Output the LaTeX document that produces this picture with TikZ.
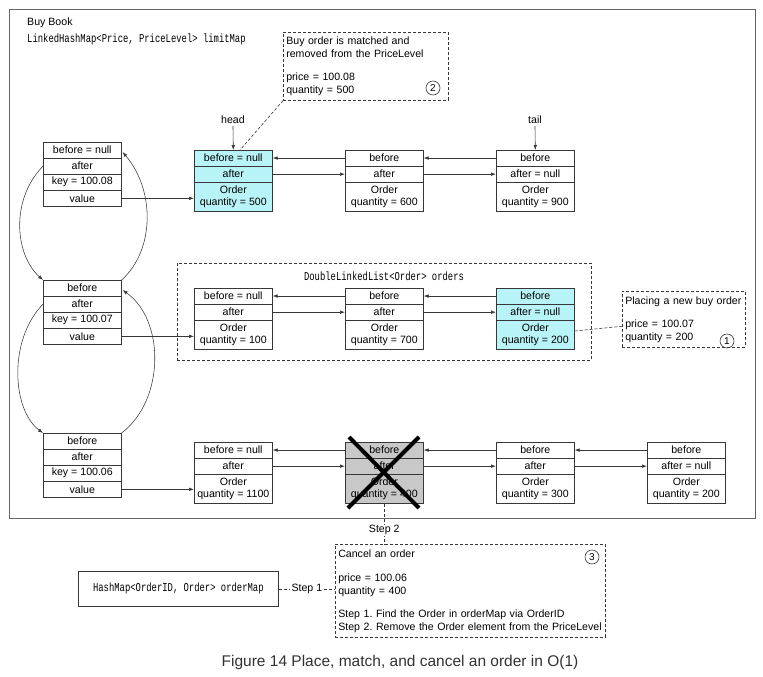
\documentclass[tikz,border=0pt]{standalone}
\usepackage{fontspec}
\setmainfont{Liberation Sans}
\newfontfamily\cmono[FakeStretch=0.74]{Liberation Mono}
\usetikzlibrary{arrows.meta,calc}
\frenchspacing

\definecolor{cyanfill}{RGB}{184,244,247}
\definecolor{greyfill}{RGB}{200,200,200}
\definecolor{edge}{RGB}{55,55,55}
\definecolor{frameline}{RGB}{100,100,100}
\definecolor{captext}{RGB}{50,50,50}

\tikzset{
  cell/.style={draw=edge, line width=0.6pt, minimum width=78pt, inner sep=0pt,
    anchor=north west, align=center, font=\fontsize{10.6}{12.5}\selectfont},
  rowcell/.style={cell, minimum height=15.5pt},
  bigcell/.style={cell, minimum height=29pt},
  link/.style={draw=edge, line width=0.6pt, -{Latex[length=5pt,width=3.6pt]}},
  curvelink/.style={draw=edge, line width=0.55pt, -{Latex[length=5pt,width=3.6pt]}},
  dashline/.style={draw=edge, line width=0.6pt, dash pattern=on 3pt off 2pt},
  note/.style={draw=edge, line width=0.6pt, dash pattern=on 3pt off 2pt, anchor=north west,
    align=left, inner sep=3pt, font=\fontsize{10.6}{13}\selectfont},
  circ/.style={circle, draw=edge, line width=0.6pt, inner sep=0pt, minimum size=14pt,
    font=\fontsize{10}{12}\selectfont},
  txt/.style={inner sep=0pt, font=\fontsize{10.6}{12.5}\selectfont},
  monotxt/.style={inner sep=0pt, font=\cmono\fontsize{12}{13}\selectfont},
}

\newcommand\ordernode[7]{%
  \node[rowcell, fill=#7] (#1-b) at (#2,#3) {#4};
  \node[rowcell, fill=#7] (#1-a) at (#1-b.south west) {#5};
  \node[bigcell, fill=#7] (#1-o) at (#1-a.south west) {Order\\quantity = #6};
}
\newcommand\hashnode[5]{%
  \node[rowcell, fill=white] (#1-b) at (#2,#3) {#4};
  \node[rowcell, fill=white] (#1-a) at (#1-b.south west) {after};
  \node[rowcell, fill=white] (#1-k) at (#1-a.south west) {key = #5};
  \node[rowcell, fill=white] (#1-v) at (#1-k.south west) {value};
}
\newcommand\pairlinks[2]{%
  \draw[link] (#2-b.west) -- (#2-b.west -| #1-b.east);
  \draw[link] (#1-a.east) -- (#1-a.east -| #2-a.west);
}

\begin{document}
\begin{tikzpicture}[x=1pt, y=-1pt]
\useasboundingbox (0,0) rectangle (763,677);

% outer frame
\draw[frameline, line width=0.8pt] (9,9) rectangle (755,518);
\node[txt, anchor=west] (title) at (27,23) {Buy Book};
\node[monotxt, anchor=west] (lhm) at (27,39) {LinkedHashMap<Price, PriceLevel> limitMap};

% dashed box of the order list
\node[draw=edge, line width=0.6pt, dash pattern=on 3pt off 2pt, anchor=north west,
      minimum width=414pt, minimum height=97pt, inner sep=0pt] (dll) at (177,263) {};
\node[monotxt] (dlltitle) at (384,276) {DoubleLinkedList<Order> orders};

% hash nodes
\hashnode{h1}{43}{142}{before = null}{100.08}
\hashnode{h2}{43}{280}{before}{100.07}
\hashnode{h3}{43}{433}{before}{100.06}

% order rows
\ordernode{o11}{194}{150}{before = null}{after}{500}{cyanfill}
\ordernode{o12}{345}{150}{before}{after}{600}{white}
\ordernode{o13}{496}{150}{before}{after = null}{900}{white}

\ordernode{o21}{194}{288}{before = null}{after}{100}{white}
\ordernode{o22}{345}{288}{before}{after}{700}{white}
\ordernode{o23}{496}{288}{before}{after = null}{200}{cyanfill}

\ordernode{o31}{194}{442}{before = null}{after}{1100}{white}
\ordernode{o32}{345}{442}{before}{after}{400}{greyfill}
\ordernode{o33}{496}{442}{before}{after}{300}{white}
\ordernode{o34}{647}{442}{before}{after = null}{200}{white}

\pairlinks{o11}{o12}
\pairlinks{o12}{o13}
\pairlinks{o21}{o22}
\pairlinks{o22}{o23}
\pairlinks{o31}{o32}
\pairlinks{o32}{o33}
\pairlinks{o33}{o34}

% value arrows
\draw[link] (h1-v.east) -- (h1-v.east -| o11-o.west);
\draw[link] (h2-v.east) -- (h2-v.east -| o21-o.west);
\draw[link] (h3-v.east) -- (h3-v.east -| o31-o.west);

% hash links (curves)
\draw[curvelink] (h1-a.west) .. controls (10,200) and (15,255) .. (h2-b.north west);
\draw[curvelink] (h2-b.north east) .. controls (155,250) and (155,190) .. ($(h1-b.east)+(1,2)$);
\draw[curvelink] (h2-a.west) .. controls (8,340) and (12,410) .. (h3-b.north west);
\draw[curvelink] (h3-b.north east) .. controls (165,400) and (165,320) .. ($(h2-b.east)+(1,2)$);

% head and tail
\node[txt] (head) at (233,120) {head};
\node[txt] (tail) at (535,120) {tail};
\draw[link] (head.south) ++(0,2) -- (o11-b.north);
\draw[link] (tail.south) ++(0,2) -- (o13-b.north);

% cancelled order cross
\draw[black, line width=4pt] (349,437) -- (419,508);
\draw[black, line width=4pt] (419,437) -- (348,508);

% notes
\node[note, text width=159pt, minimum height=68pt] (n2) at (283,32)
  {Buy order is matched and\\removed from the PriceLevel\\[10pt]price = 100.08\\quantity = 500};
\node[circ] (c2) at (433,88) {2};
\coordinate (m2) at (240,150);
\draw[dashline] (n2.south west) -- (m2);

\node[note, text width=117pt, minimum height=56pt] (n1) at (622,291)
  {Placing a new buy order\\[10pt]price = 100.07\\quantity = 200};
\node[circ] (c1) at (727,341) {1};
\draw[dashline] ($(o23-o.east)+(0,-4)$) -- ($(n1.west)+(0,7)$);

\node[note, text width=264pt, minimum height=93pt] (n3) at (335,544)
  {Cancel an order\\[11pt]price = 100.06\\quantity = 400\\[10pt]Step 1. Find the Order in orderMap via OrderID\\Step 2. Remove the Order element from the PriceLevel};
\node[circ] (c3) at (592,557) {3};

% orderMap box
\node[draw=edge, line width=0.7pt, anchor=north west, minimum width=200pt, minimum height=35pt,
      inner sep=0pt, font=\cmono\fontsize{12}{13}\selectfont] (om) at (78,571)
  {HashMap<OrderID, Order> orderMap};

\draw[dashline] (om.east) -- node[txt, fill=white, inner xsep=2pt, inner ysep=1pt] (s1) {Step 1} (om.east -| n3.west);
\draw[dashline] (o32-o.south) -- node[txt, pos=0.66, fill=white, inner xsep=1pt, inner ysep=1pt] (s2) {Step 2} (o32-o.south |- n3.north);

% caption
\node[inner sep=0pt, text=captext, font=\fontsize{15.5}{18}\selectfont] (cap) at (400,662)
  {Figure 14 Place, match, and cancel an order in O(1)};
\end{tikzpicture}
\end{document}
